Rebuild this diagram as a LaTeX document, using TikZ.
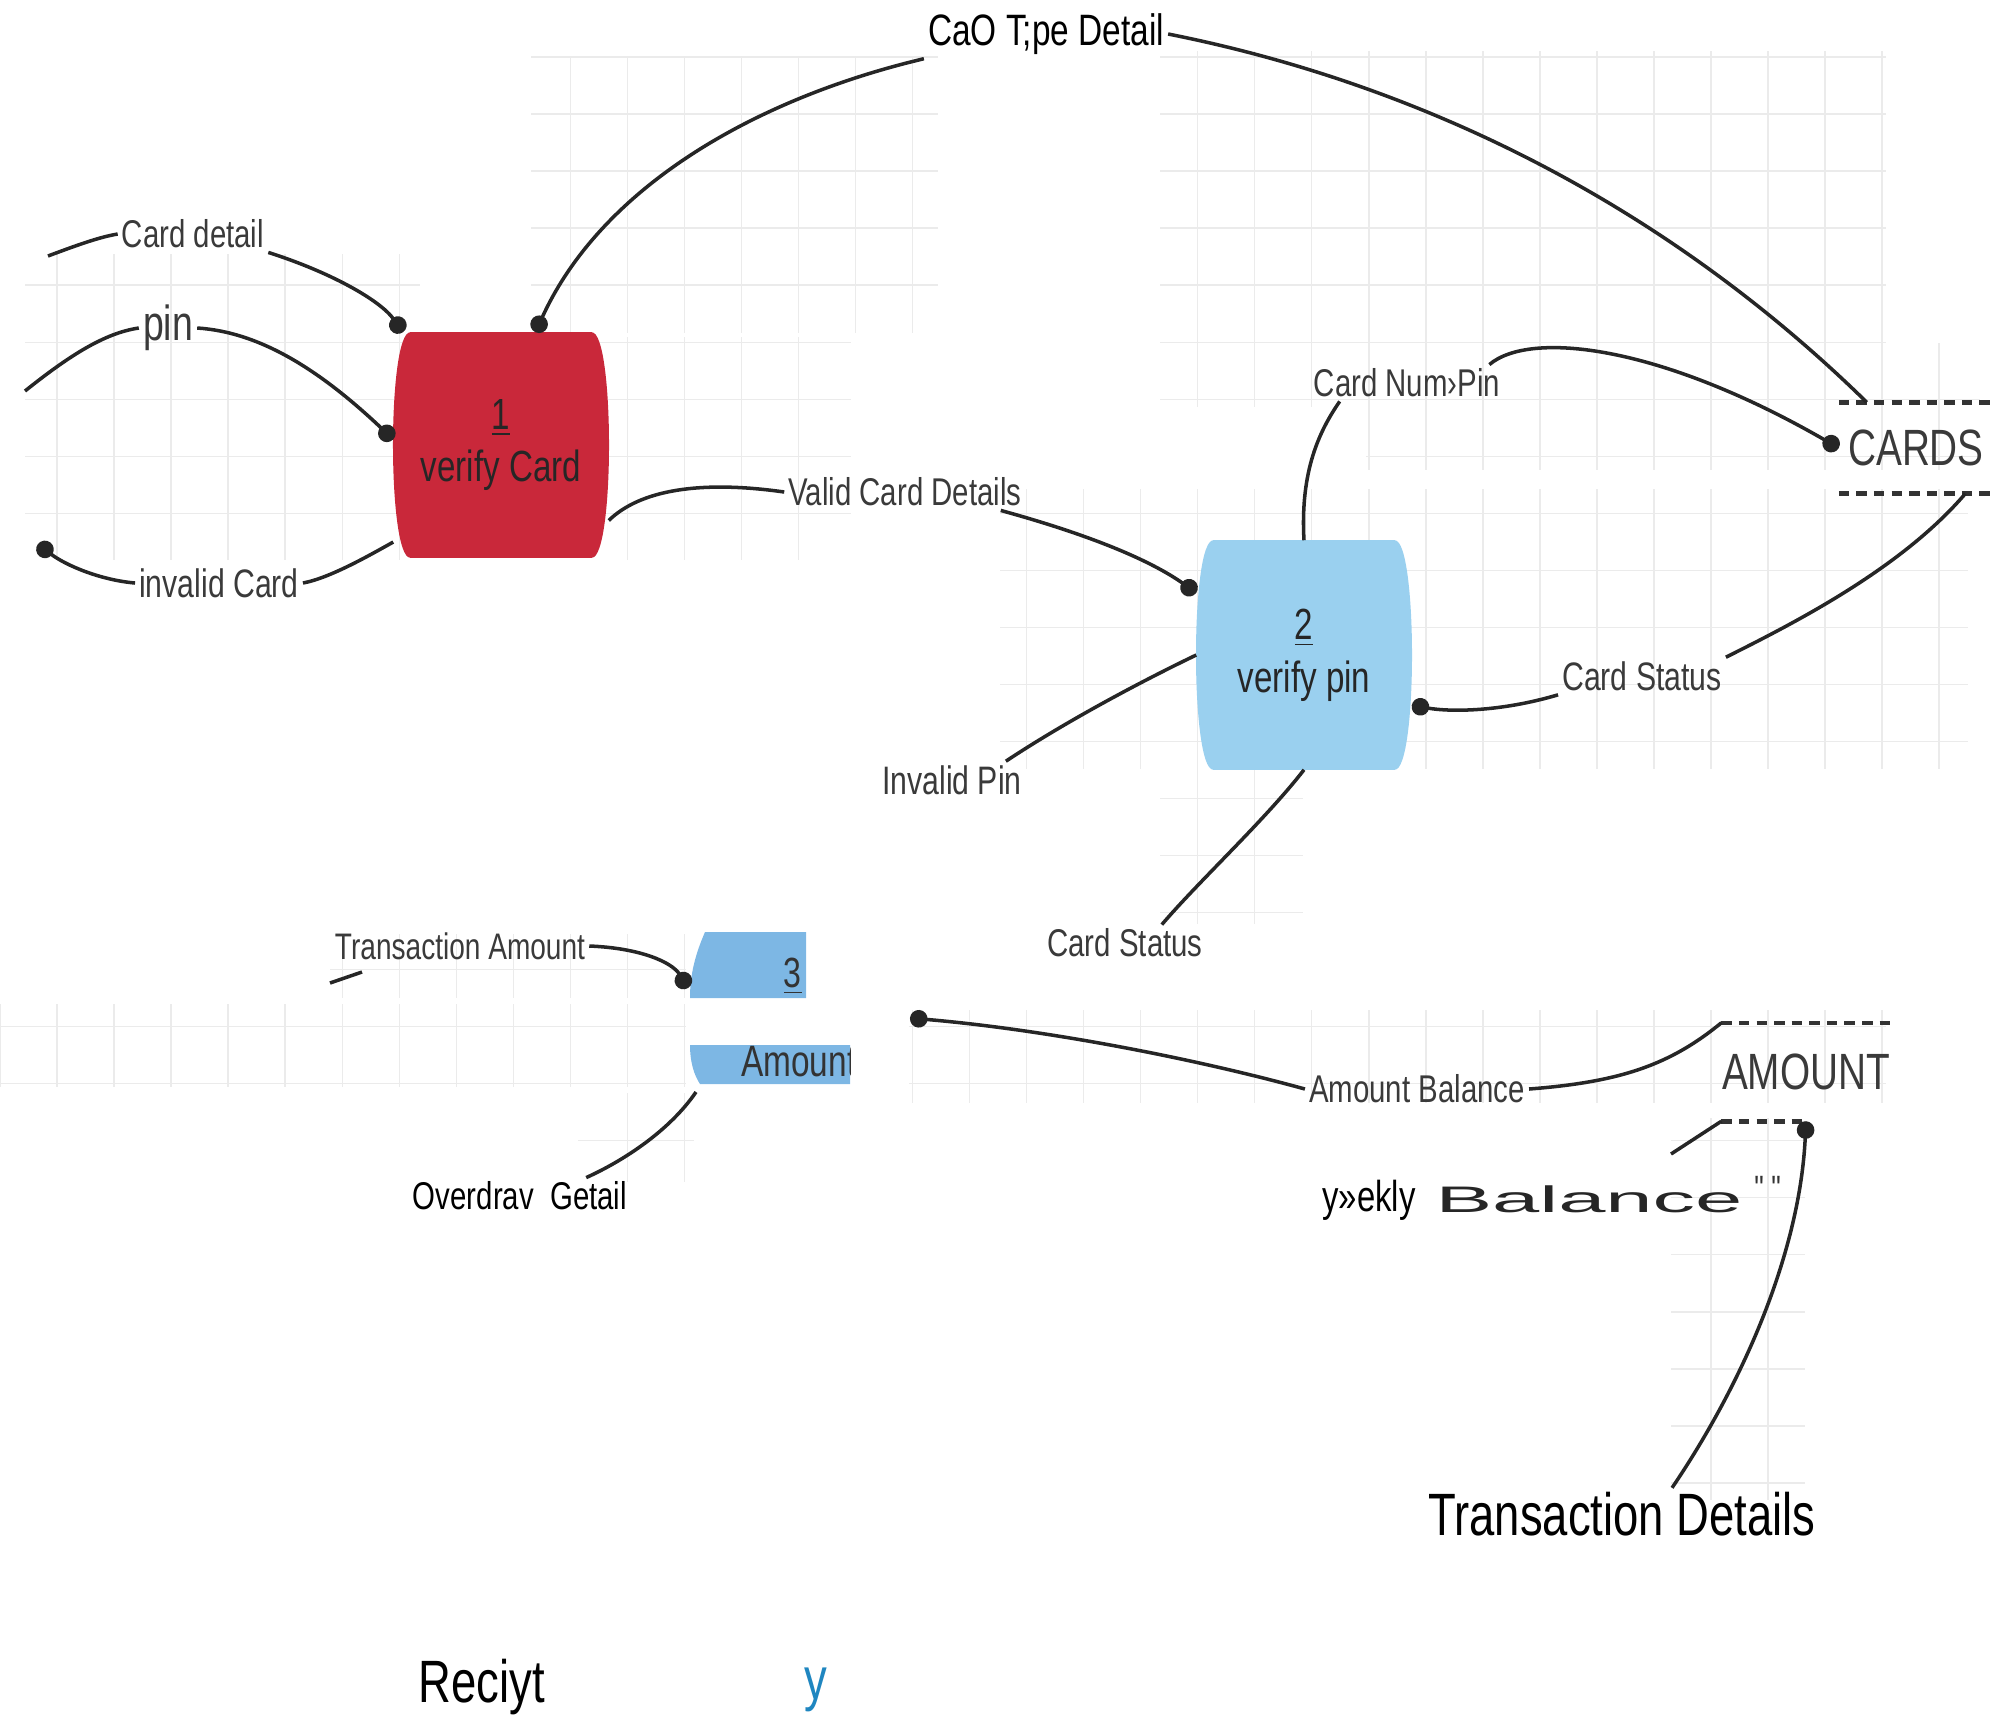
\documentclass[tikz,border=0pt]{standalone}
\usepackage{fontspec}
\setmainfont{Liberation Sans}
\newfontfamily\lblfont[FakeStretch=0.76]{Liberation Sans}
\newfontfamily\widefont[FakeStretch=2.3]{Liberation Sans}
\usetikzlibrary{arrows.meta,positioning}

\definecolor{cardred}{HTML}{C9283A}
\definecolor{pinblue}{HTML}{9AD0EF}
\definecolor{amtblue}{HTML}{7DB7E4}
\definecolor{labelgray}{HTML}{3A3A3A}
\definecolor{gridgray}{HTML}{EBEBEB}
\definecolor{linkblue}{HTML}{1F86C0}

\pgfdeclarelayer{background}
\pgfsetlayers{background,main}

\tikzset{
  process/.style={rectangle, minimum width=2.14cm, minimum height=2.24cm, align=center,
    text=black!85, inner sep=0pt, font=\lblfont\fontsize{12.4}{15}\selectfont},
  lbl/.style={font=\lblfont\fontsize{#1}{#1}\selectfont, text=labelgray, inner sep=1pt},
  lbl/.default=11,
  store/.style={minimum width=1.53cm, minimum height=0.9cm, inner sep=0pt, text=labelgray,
    font=\lblfont\fontsize{14.5}{16}\selectfont},
  storeline/.style={line width=1.3pt, dash pattern=on 3pt off 2pt, black!80},
  flow/.style={line width=1pt, black!85},
  dotend/.style={-{Circle[length=5pt]}},
  dotstart/.style={{Circle[length=5pt]}-},
  gridline/.style={gridgray, line width=0.4pt}
}

% barrel shaped fill behind a process node
\newcommand{\barrel}[2]{%
  \begin{pgfonlayer}{background}
  \fill[#2] ([xshift=0.17cm]#1.north west) -- ([xshift=-0.17cm]#1.north east)
    .. controls ([xshift=0.06cm]#1.north east) and ([xshift=0.06cm]#1.south east) .. ([xshift=-0.17cm]#1.south east)
    -- ([xshift=0.17cm]#1.south west)
    .. controls ([xshift=-0.06cm]#1.south west) and ([xshift=-0.06cm]#1.north west) .. cycle;
  \end{pgfonlayer}}

\begin{document}
\begin{tikzpicture}[x=0.01cm, y=-0.01cm]
\useasboundingbox (0,0) rectangle (1993,1723);

% Background grid patches
\begin{pgfonlayer}{background}
\foreach \xa/\ya/\xb/\yb in {531/57/938/333, 1160/51/1886/407, 1366/343/1980/470,
    1000/489/1968/769, 1160/769/1303/924, 25/254/420/560, 597/337/851/560,
    0/1004/686/1087, 909/1010/1886/1103, 1671/1118/1805/1500, 330/934/686/998,
    578/1093/694/1182}
  \draw[gridline, step=0.57cm] (\xa,\ya) grid (\xb,\yb);
\end{pgfonlayer}

% Processes
\node[process] (v1) at (501,445) {\underline{1}\\verify Card};
\barrel{v1}{cardred}
\node[process, minimum height=2.28cm] (v2) at (1304,655) {\underline{2}\\verify pin};
\barrel{v2}{pinblue}

% Process 3 (only two strips of it show)
\fill[amtblue] (705,932) .. controls (695,955) and (690,975) .. (690,998) -- (806,998) -- (806,932) -- cycle;
\fill[amtblue] (690,1045) .. controls (690,1062) and (694,1075) .. (700,1084) -- (850,1084) -- (850,1045) -- cycle;
\node[lbl=12, text=black!80, anchor=east] (p3num) at (806,976) {\underline{3}};
\begin{scope}
  \clip (690,1045) rectangle (850,1084);
  \node[lbl=12.5, text=black!80, anchor=west] (p3txt) at (737,1062) {Amount};
\end{scope}
\coordinate (n3a) at (688,988);
\coordinate (n3b) at (696,1092);

% Data stores
\node[store] (cards) at (1916,448) {CARDS};
\draw[storeline] (cards.north west) -- (cards.north east);
\draw[storeline] (cards.south west) -- (cards.south east);
\node[store, minimum width=1.6cm, minimum height=0.97cm] (amt) at (1806,1072) {AMOUNT};
\draw[storeline] (amt.north west) -- (amt.north east);
\draw[storeline] (amt.south west) -- (amt.south);

% Labels
\node[lbl=12.5, text=black] (lcao) at (1046,34) {CaO T;pe Detail};
\node[lbl] (lcd) at (193,234) {Card detail};
\node[lbl=14] (lpin) at (168,328) {pin};
\node[lbl=11.3] (linv) at (219,583) {invalid Card};
\node[lbl] (lvcd) at (905,492) {Valid Card Details};
\node[lbl] (lcnp) at (1407,383) {Card Num›Pin};
\node[lbl=11.3] (lcs1) at (1642,676) {Card Status};
\node[lbl=11.3] (lip) at (952,780) {Invalid Pin};
\node[lbl] (lcs2) at (1125,943) {Card Status};
\node[lbl=10.5] (lta) at (460,946) {Transaction Amount};
\node[lbl, text=black] (lod) at (520,1196) {Overdrav~~Getail};
\node[lbl] (lab) at (1417,1089) {Amount Balance};
\node[lbl=12.3, text=black] (wk) at (1369,1200) {y»ekly};
\node[font=\widefont\fontsize{10.5}{12}\selectfont, text=black!85, inner sep=1pt] (wbal) at (1589,1199) {Balance};
\node[lbl=10, text=black!80, right=1pt of wbal, yshift=3pt] (wq) {" "};
\node[lbl=17, text=black] (ltd) at (1622,1514) {Transaction Details};
\node[lbl=17, text=black] (lrc) at (482,1687) {Reciyt};
\node[lbl=17, text=linkblue] (ly) at (816,1690) {y};

% Card detail
\coordinate (cdin) at (48,256);
\draw[flow] (cdin) .. controls (80,244) and (100,237) .. (lcd.west);
\draw[flow, dotend] (lcd.south east) .. controls (330,272) and (380,300) .. (v1.131);

% pin
\coordinate (pinin) at (25,391);
\draw[flow] (pinin) .. controls (70,355) and (105,333) .. (lpin.west);
\draw[flow, dotend] (lpin.east) .. controls (260,332) and (320,370) .. (v1.177);

% invalid Card
\coordinate (invout) at (38,544);
\draw[flow] (v1.222) .. controls (370,555) and (330,578) .. (linv.east);
\draw[flow, dotend] (linv.west) .. controls (100,580) and (65,565) .. (invout);

% Card type detail
\draw[flow, dotstart] (v1.73) .. controls (600,190) and (750,100) .. (lcao.south west);
\draw[flow] (lcao.east) .. controls (1400,80) and (1650,190) .. ([xshift=0.28cm]cards.north west);

% Valid card details
\draw[flow] (v1.325) .. controls (640,490) and (700,480) .. (lvcd.west);
\draw[flow, dotend] ([xshift=-0.25cm]lvcd.south east) .. controls (1090,535) and (1150,560) .. (v2.150);

% Card num / pin
\draw[flow] (v2.north) .. controls (1300,470) and (1320,430) .. ([xshift=0.3cm]lcnp.south west);
\draw[flow, dotend] ([xshift=-0.15cm]lcnp.north east) .. controls (1530,330) and (1660,345) .. (cards.west);

% Card status
\draw[flow] ([xshift=-0.28cm]cards.south east) .. controls (1900,570) and (1790,625) .. (lcs1.north east);
\draw[flow, dotend] (lcs1.south west) .. controls (1500,712) and (1450,712) .. (v2.335);

% Invalid pin, card status
\draw[flow] (v2.west) .. controls (1140,682) and (1065,722) .. ([xshift=-0.2cm]lip.north east);
\draw[flow] (v2.south) .. controls (1265,820) and (1200,880) .. ([xshift=-0.45cm]lcs2.north east);

% Transaction amount
\coordinate (tain1) at (330,983);
\coordinate (tain2) at (362,972);
\draw[flow] (tain1) -- (tain2);
\draw[flow, dotend] (lta.east) .. controls (640,948) and (672,962) .. (n3a);

% Overdraft
\draw[flow] (n3b) .. controls (670,1130) and (625,1160) .. ([xshift=-0.45cm]lod.north east);

% Amount balance
\coordinate (about) at (910,1018);
\draw[flow, dotstart] (about) .. controls (1050,1030) and (1200,1060) .. (lab.west);
\draw[flow] (lab.east) .. controls (1620,1082) and (1670,1065) .. (amt.north west);

% Weekly balance, transaction details
\coordinate (wkin) at (1671,1154);
\draw[flow] (wkin) -- (amt.south west);
\draw[flow, dotend] ([xshift=0.5cm]ltd.north) .. controls (1745,1380) and (1800,1250) .. (amt.south);

\end{tikzpicture}
\end{document}
